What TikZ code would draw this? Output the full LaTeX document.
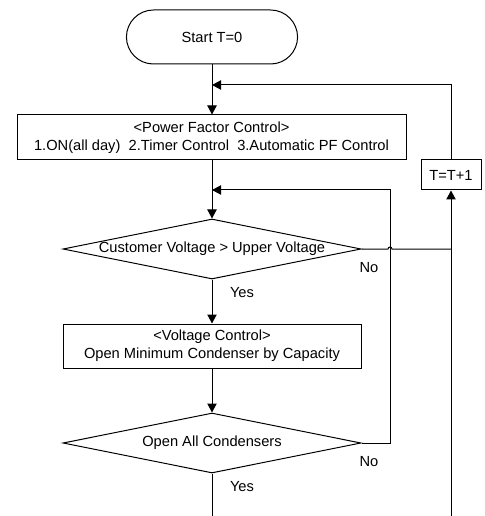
\documentclass[tikz,border=0pt]{standalone}
\usepackage{fontspec}
\setmainfont{Liberation Sans}
\usetikzlibrary{arrows.meta,shapes.geometric,shapes.misc}
\tikzset{
  box/.style={draw, rectangle, inner sep=0pt, align=center},
  decide/.style={draw, diamond, aspect=5, inner sep=0pt, minimum width=223.5pt, minimum height=45pt},
}
\begin{document}
\begin{tikzpicture}[x=0.75pt, y=-0.75pt, line width=0.75pt, >={Triangle[length=6.75pt,width=7pt]}, font=\fontsize{11}{13.5}\selectfont]
\useasboundingbox (0,0) rectangle (484,516);
% main column
\node[draw, rounded rectangle, minimum width=135pt, minimum height=40.5pt] (start) at (212,37) {Start T=0};
\node[box, minimum width=291.75pt, minimum height=33.75pt] (pf) at (211.5,137.5) {{<}Power Factor Control{>}\\1.ON(all day)\ \ 2.Timer Control\ \ 3.Automatic PF Control};
\node[decide] (dec1) at (212,249) {Customer Voltage {>} Upper Voltage};
\node[box, minimum width=223.5pt, minimum height=33pt] (vc) at (212,346) {{<}Voltage Control{>}\\Open Minimum Condenser by Capacity};
\node[decide] (dec2) at (212,443) {Open All Condensers};
\node[box, minimum width=45pt, minimum height=22.5pt] (tt) at (451,175) {T=T+1};
% labels
\node (no1) at (369,268) {No};
\node (yes1) at (242,293) {Yes};
\node (no2) at (369,462) {No};
\node (yes2) at (242,487) {Yes};
% points
\coordinate (j1) at (212,85);
\coordinate (j2) at (212,190);
\coordinate (r2) at (390,190);
\coordinate (hop) at (388,249);
\coordinate (endA) at (212,516);
\coordinate (endB) at (451,516);
% connectors
\draw[->] (start.south) -- (start.south |- pf.north);
\draw[->] (start.south |- pf.south) -- (dec1.north);
\draw[->] (dec1.south) -- (vc.north);
\draw[->] (vc.south) -- (dec2.north);
\draw (dec2.south) -- (endA);
\draw[->] (tt.north) |- (j1);
\draw[->] (dec2.east) -| (r2) -- (j2);
\draw (dec1.east) -- (hop) arc (180:360:2) -- (tt.south |- hop);
\draw[->] (endB) -- (tt.south);
\end{tikzpicture}
\end{document}
